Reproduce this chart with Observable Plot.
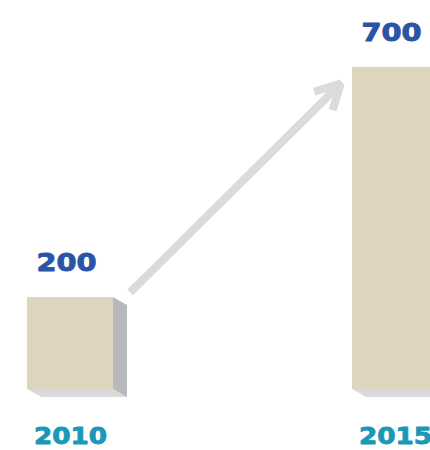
<!DOCTYPE html>
<html>
<head>
<meta charset="utf-8">
<script src="https://cdn.jsdelivr.net/npm/d3@7"></script>
<script src="https://cdn.jsdelivr.net/npm/@observablehq/plot@0.6"></script>
<style>
  html, body { margin: 0; padding: 0; background: #ffffff; }
  body { width: 430px; height: 450px; overflow: hidden; }
</style>
</head>
<body>
<script>
// ---- data ----
const years = ["2010", "2015"];
const values = [200, 700];
const valueLabels = ["200", "700"];
const arrowFrom = years[0];
const arrowTo = years[1];

const data = years.map((year, i) => ({year, value: values[i], label: valueLabels[i]}));
const arrowData = [{from: arrowFrom, to: arrowTo, base: 0, top: values[1]}];

// ---- style ----
const BAR_W = 86, DEPTH_X = 14, DEPTH_Y = 8;
const beige = "#ded5bf", sideGray = "#b8b9bc", bottomGray = "#d9dadc", arrowGray = "#dadbdd";
const blue = "#2a54a5", teal = "#1a98b7";
const x0 = 27, x1 = 438;
const pInner = ((x1 - x0) - 2 * BAR_W) / ((x1 - x0) - BAR_W);

const chart = Plot.plot({
  width: 430,
  height: 450,
  marginTop: 67,
  marginBottom: 61,
  marginLeft: 0,
  marginRight: 0,
  style: {fontFamily: "DejaVu Sans", fontWeight: "bold", background: "#ffffff", overflow: "hidden"},
  x: {domain: years, range: [x0, x1], paddingInner: pInner, paddingOuter: 0, axis: null},
  y: {domain: [0, 700], axis: null},
  marks: [
    // bottom face
    Plot.barY(data, {x: "year", y1: 0, y2: 0, insetBottom: -DEPTH_Y, fill: bottomGray, className: "bottom-face"}),
    // side face
    Plot.barY(data, {x: "year", y1: 0, y2: "value", insetLeft: BAR_W, insetRight: -DEPTH_X, fill: sideGray, className: "side-face"}),
    // front face
    Plot.barY(data, {x: "year", y1: 0, y2: "value", fill: beige}),
    // growth arrow
    Plot.arrow(arrowData, {
      x1: "from", y1: "base", x2: "to", y2: "top",
      stroke: arrowGray, strokeWidth: 8, headLength: 5.2, headAngle: 56,
      insetStart: 84, insetEnd: 77, dy: -38,
      strokeLinejoin: "miter", strokeLinecap: "butt"
    }),
    // value labels
    Plot.text(data, {x: "year", y: "value", text: "label", dy: -34, dx: -4, fontSize: 24, fontWeight: "bold", fill: blue, className: "wide"}),
    // year labels
    Plot.axisX({tickSize: 0, tickPadding: 38, fontSize: 23, fontWeight: "bold", color: teal, label: null, className: "wide years"})
  ]
});

document.body.appendChild(chart);

// 3D faces: skew the side and bottom faces
const sideAngle = Math.atan(DEPTH_Y / DEPTH_X) * 180 / Math.PI;
const bottomAngle = Math.atan(DEPTH_X / DEPTH_Y) * 180 / Math.PI;
chart.querySelectorAll(".side-face rect").forEach(r => {
  const x = +r.getAttribute("x");
  r.setAttribute("transform", `translate(${x},0) skewY(${sideAngle}) translate(${-x},0)`);
});
chart.querySelectorAll(".bottom-face rect").forEach(r => {
  const y = +r.getAttribute("y");
  r.setAttribute("transform", `translate(0,${y}) skewX(${bottomAngle}) translate(0,${-y})`);
});
// wide, heavy display lettering
chart.querySelectorAll(".wide text").forEach(t => {
  const w = t.getComputedTextLength();
  const isYear = t.closest(".years") !== null;
  t.setAttribute("textLength", (w * (isYear ? 1.14 : 1.2)).toFixed(1));
  t.setAttribute("lengthAdjust", "spacingAndGlyphs");
  const c = getComputedStyle(t).fill;
  t.setAttribute("stroke", c);
  t.setAttribute("stroke-width", "0.9");
  t.setAttribute("stroke-linejoin", "round");
});
</script>
</body>
</html>
